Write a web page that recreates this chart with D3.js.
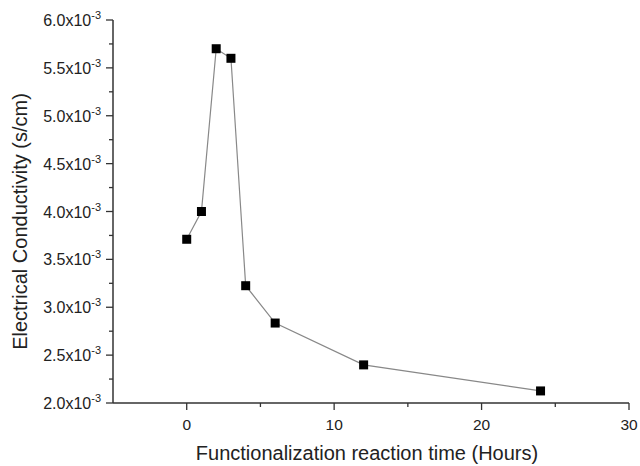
<!DOCTYPE html>
<html>
<head>
<meta charset="utf-8">
<script src="https://cdn.jsdelivr.net/npm/d3@7"></script>
<style>
  body { margin: 0; background: #fff; }
  svg { font-family: "Liberation Sans", Arial, sans-serif; }
</style>
</head>
<body>
<script>
const hours = [0, 1, 2, 3, 4, 6, 12, 24];
const conductivity = [3.71, 4.0, 5.70, 5.60, 3.225, 2.835, 2.398, 2.126]; // x10^-3 s/cm
const xTicks = [0, 10, 20, 30];
const yTicks = [2.0, 2.5, 3.0, 3.5, 4.0, 4.5, 5.0, 5.5, 6.0];

const width = 640, height = 466;
const margin = {left: 113, right: 11, top: 20, bottom: 63};

const svg = d3.select("body").append("svg")
    .attr("width", width)
    .attr("height", height);

const x = d3.scaleLinear().domain([-5, 30]).range([margin.left, width - margin.right]);
const y = d3.scaleLinear().domain([2.0, 6.0]).range([height - margin.bottom, margin.top]);

// minor ticks
const xMinor = d3.range(-5, 31, 5).filter(d => d % 10 !== 0);
const yMinor = d3.range(2.25, 6.0, 0.5);

const axisColor = "#333";

// x axis
const gx = svg.append("g").attr("transform", `translate(0,${y(2.0)})`);
gx.append("line").attr("x1", x(-5)).attr("x2", x(30)).attr("stroke", axisColor).attr("stroke-width", 1.5);
gx.selectAll(".maj").data(xTicks).enter().append("line")
    .attr("x1", d => x(d)).attr("x2", d => x(d)).attr("y1", 0).attr("y2", 7)
    .attr("stroke", axisColor).attr("stroke-width", 1.3);
gx.selectAll(".min").data(xMinor.filter(d => d > -5)).enter().append("line")
    .attr("x1", d => x(d)).attr("x2", d => x(d)).attr("y1", 0).attr("y2", 4)
    .attr("stroke", axisColor).attr("stroke-width", 1.3);
gx.selectAll("text").data(xTicks).enter().append("text")
    .attr("x", d => x(d)).attr("y", 26.5)
    .attr("text-anchor", "middle").attr("font-size", 15.5).attr("fill", "#222")
    .text(d => d);

// y axis
const gy = svg.append("g").attr("transform", `translate(${x(-5)},0)`);
gy.append("line").attr("y1", y(2.0)).attr("y2", y(6.0)).attr("stroke", axisColor).attr("stroke-width", 1.5);
gy.selectAll(".maj").data(yTicks).enter().append("line")
    .attr("y1", d => y(d)).attr("y2", d => y(d)).attr("x1", 0).attr("x2", -7)
    .attr("stroke", axisColor).attr("stroke-width", 1.3);
gy.selectAll(".min").data(yMinor).enter().append("line")
    .attr("y1", d => y(d)).attr("y2", d => y(d)).attr("x1", 0).attr("x2", -4)
    .attr("stroke", axisColor).attr("stroke-width", 1.3);
const lbl = gy.selectAll("text").data(yTicks).enter().append("text")
    .attr("x", -12).attr("y", d => y(d) + 6)
    .attr("text-anchor", "end").attr("font-size", 16).attr("fill", "#222");
lbl.append("tspan").text(d => d3.format(".1f")(d) + "x10");
lbl.append("tspan").attr("font-size", 11).attr("dy", -7).text("-3");

// axis titles
svg.append("text")
    .attr("transform", `translate(27,221.5) rotate(-90)`)
    .attr("text-anchor", "middle").attr("font-size", 20).attr("fill", "#222")
    .text("Electrical Conductivity (s/cm)");
svg.append("text")
    .attr("x", 367).attr("y", 460)
    .attr("text-anchor", "middle").attr("font-size", 20).attr("fill", "#222")
    .text("Functionalization reaction time (Hours)");

// line and markers
const pts = hours.map((h, i) => [h, conductivity[i]]);
svg.append("path").datum(pts)
    .attr("fill", "none").attr("stroke", "#888").attr("stroke-width", 1.2)
    .attr("d", d3.line().x(d => x(d[0])).y(d => y(d[1])));
svg.selectAll(".pt").data(pts).enter().append("rect")
    .attr("x", d => x(d[0]) - 4.5).attr("y", d => y(d[1]) - 4.5)
    .attr("width", 9).attr("height", 9).attr("fill", "#000");
</script>
</body>
</html>
